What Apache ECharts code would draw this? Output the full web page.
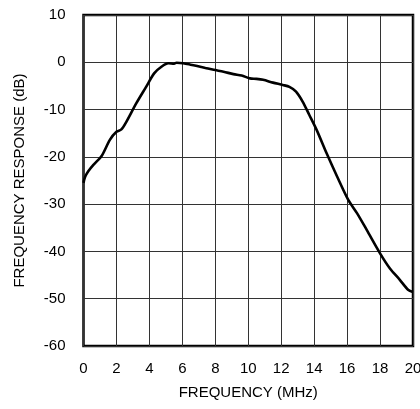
<!DOCTYPE html>
<html>
<head>
<meta charset="utf-8">
<script src="https://cdn.jsdelivr.net/npm/echarts@6/dist/echarts.min.js"></script>
<style>
html,body{margin:0;padding:0;background:#fff;}
#c{width:420px;height:409px;}
</style>
</head>
<body>
<div id="c"></div>
<script>
const freqMHz = [0, 0.1, 0.3, 0.6, 1.1, 1.6, 2.0, 2.3, 2.6, 3.2, 3.8, 4.3, 4.75, 5.15, 5.5, 5.65, 6.05, 6.5, 6.9, 7.4, 7.9, 8.5, 9.1, 9.6, 10.1, 10.5, 10.9, 11.5, 12.1, 12.5, 12.9, 13.3, 13.7, 14.15, 14.75, 15.4, 16.07, 16.6, 17.2, 18.0, 18.6, 19.2, 19.7, 20.0];
const responseDb = [-25.5, -24.2, -23.0, -21.7, -19.8, -16.4, -14.7, -14.2, -12.6, -8.7, -5.2, -2.3, -0.9, -0.2, -0.3, -0.1, -0.2, -0.5, -0.8, -1.2, -1.6, -2.0, -2.5, -2.8, -3.4, -3.5, -3.7, -4.3, -4.8, -5.2, -6.2, -8.3, -11.1, -14.3, -19.2, -24.2, -29.1, -31.9, -35.5, -40.4, -43.6, -46.0, -48.1, -48.6];
const xTicks = {min: 0, max: 20, interval: 2};
const yTicks = {min: -60, max: 10, interval: 10};

const FONT = '"Liberation Sans", Arial, sans-serif';
const chart = echarts.init(document.getElementById('c'), null, {renderer: 'canvas'});
chart.setOption({
  animation: false,
  grid: {left: 83.5, right: 7, top: 15, bottom: 63, containLabel: false, outerBoundsMode: 'none',
         show: true, borderColor: '#000', borderWidth: 2.5, backgroundColor: 'transparent'},
  xAxis: {
    type: 'value', min: xTicks.min, max: xTicks.max, interval: xTicks.interval,
    name: 'FREQUENCY (MHz)', nameLocation: 'middle', nameGap: 39,
    nameTextStyle: {color: '#000', fontSize: 15, fontFamily: FONT},
    axisLine: {show: false}, axisTick: {show: false},
    axisLabel: {color: '#000', fontSize: 15, fontFamily: FONT, margin: 15, hideOverlap: false},
    splitLine: {show: true, lineStyle: {color: '#333', width: 1}}
  },
  yAxis: {
    type: 'value', min: yTicks.min, max: yTicks.max, interval: yTicks.interval,
    name: 'FREQUENCY RESPONSE (dB)', nameLocation: 'middle', nameGap: 56,
    nameTextStyle: {color: '#000', fontSize: 15, fontFamily: FONT},
    axisLine: {show: false}, axisTick: {show: false},
    axisLabel: {color: '#000', fontSize: 15, fontFamily: FONT, margin: 18},
    splitLine: {show: true, lineStyle: {color: '#333', width: 1}}
  },
  series: [{
    type: 'line',
    data: freqMHz.map((f, i) => [f, responseDb[i]]),
    showSymbol: false, smooth: 0.3,
    lineStyle: {color: '#000', width: 2.6},
    clip: true
  }]
});
</script>
</body>
</html>
